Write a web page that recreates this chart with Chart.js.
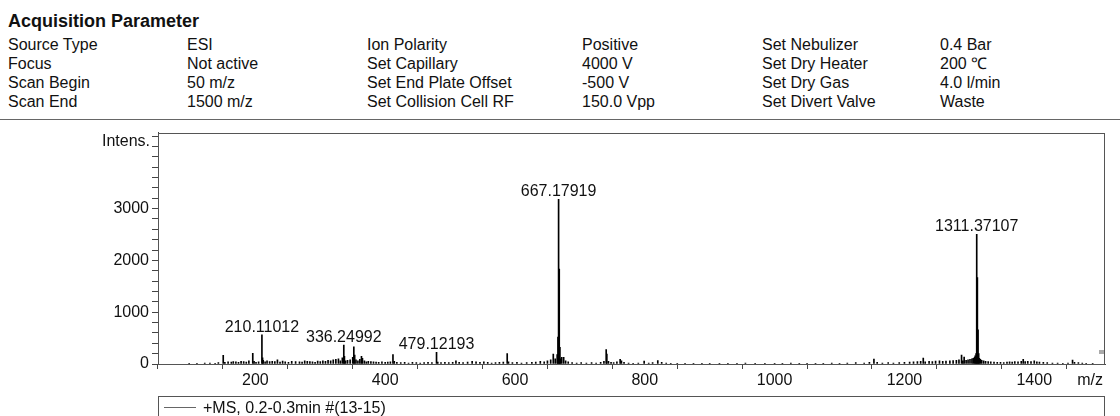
<!DOCTYPE html>
<html>
<head>
<meta charset="utf-8">
<title>Acquisition Parameter - MS Spectrum</title>
<script src="https://cdn.jsdelivr.net/npm/chart.js"></script>
<style>
    body { margin: 0; background: #fff; font-family: "Liberation Sans", Arial, sans-serif; color: #111; }
    .page { position: relative; width: 1120px; height: 416px; overflow: hidden; }
    .title { position: absolute; left: 8px; top: 11px; font-size: 18px; font-weight: bold; line-height: 20px; }
    .col { position: absolute; top: 35px; font-size: 16px; line-height: 19px; white-space: nowrap; }
    .sep { position: absolute; left: 0; top: 119px; width: 1120px; height: 1px; background: #666; }
    #spec { position: absolute; left: 0; top: 120px; }
    .legend { position: absolute; left: 158px; top: 396px; width: 945px; height: 30px; border: 1px solid #555; }
    .legend .swatch { position: absolute; left: 5px; top: 10px; width: 32px; height: 1px; background: #666; }
    .legend .txt { position: absolute; left: 44px; top: 1px; font-size: 16px; line-height: 19px; }
</style>
</head>
<body>
<div class="page">
    <div class="title">Acquisition Parameter</div>
    <div class="col" style="left:8px">Source Type<br>Focus<br>Scan Begin<br>Scan End</div>
    <div class="col" style="left:187px">ESI<br>Not active<br>50 m/z<br>1500 m/z</div>
    <div class="col" style="left:367px">Ion Polarity<br>Set Capillary<br>Set End Plate Offset<br>Set Collision Cell RF</div>
    <div class="col" style="left:582px">Positive<br>4000 V<br>-500 V<br>150.0 Vpp</div>
    <div class="col" style="left:762px">Set Nebulizer<br>Set Dry Heater<br>Set Dry Gas<br>Set Divert Valve</div>
    <div class="col" style="left:940px">0.4 Bar<br>200 ℃<br>4.0 l/min<br>Waste</div>
    <div class="sep"></div>
    <canvas id="spec" width="1120" height="296"></canvas>
    <div class="legend"><div class="swatch"></div><div class="txt">+MS, 0.2-0.3min #(13-15)</div></div>
</div>

<script>
    // peak list (m/z, intensity)
    const mzValues = [
        98, 110, 122, 130, 138, 143, 150.5, 153, 158, 163,
        166, 170, 174, 178, 182, 186, 190, 196, 198, 201,
        205, 210.11012, 211.1, 212, 215, 218, 222, 226, 230, 234,
        238, 242, 246, 251, 256, 262, 268, 272, 276, 280,
        284, 288, 292, 296, 300, 304, 308, 312, 316, 320,
        324, 328, 331, 334, 336.24992, 337.2, 339, 342, 346, 350,
        351.7, 353, 355, 358, 361, 363.5, 365, 368, 371, 374,
        378, 382, 386, 390, 395, 400, 404, 408, 412, 414,
        418, 424, 430, 436, 442, 448, 454, 460, 466, 472,
        479.12193, 481, 486, 492, 498, 504, 509, 514, 520, 527,
        534, 540, 546, 552, 558, 564, 570, 576, 582, 588,
        590, 596, 603, 610, 618, 626, 632, 639, 645, 650,
        655, 659, 662, 665, 666.2, 667.17919, 668.18, 669.2, 670, 672,
        675, 678, 682, 688, 695, 702, 710, 718, 725, 732,
        737, 740.5, 741.5, 744, 748, 752, 757, 762, 764, 768,
        775, 782, 790, 799, 806, 812, 820, 826, 833, 840,
        850, 862, 875, 888, 900, 915, 928, 942, 955, 970,
        985, 1000, 1012, 1025, 1038, 1050, 1063, 1075, 1088, 1100,
        1112, 1125, 1138, 1146, 1153, 1158, 1166, 1175, 1183, 1192,
        1200, 1208, 1214, 1220, 1225, 1229, 1232, 1238, 1243, 1248,
        1254, 1259, 1264, 1270, 1275, 1280, 1284, 1288, 1290, 1292,
        1295, 1298, 1301, 1304, 1306, 1308, 1309, 1310.4, 1311.37107, 1312.37,
        1313.4, 1314.4, 1315.4, 1317, 1319, 1322, 1325, 1329, 1333, 1338,
        1343, 1348, 1353, 1358, 1362, 1366, 1370, 1375, 1380, 1383,
        1386, 1390, 1395, 1400, 1404, 1408, 1414, 1420, 1428, 1436,
        1444, 1452, 1459, 1462, 1468, 1474, 1480, 1490
    ];
    const intensities = [
        15, 12, 18, 20, 15, 25, 165, 30, 40, 35,
        45, 40, 30, 50, 45, 35, 60, 205, 50, 30,
        40, 563, 120, 70, 40, 60, 45, 50, 45, 80,
        35, 55, 40, 30, 50, 45, 40, 35, 60, 50,
        45, 40, 30, 55, 45, 60, 50, 70, 60, 80,
        90, 100, 60, 120, 365, 150, 60, 70, 80, 130,
        330, 170, 80, 60, 90, 150, 110, 60, 40, 50,
        45, 40, 35, 30, 40, 30, 35, 40, 180, 50,
        30, 25, 30, 20, 30, 25, 20, 25, 30, 25,
        225, 35, 25, 30, 25, 30, 60, 30, 25, 35,
        50, 40, 30, 40, 30, 20, 25, 30, 35, 200,
        40, 25, 30, 20, 25, 30, 35, 50, 40, 60,
        80, 190, 100, 180, 520, 3180, 1830, 320, 100, 128,
        130, 60, 40, 25, 20, 25, 20, 25, 20, 30,
        50, 280, 190, 50, 30, 25, 40, 90, 60, 30,
        20, 15, 20, 57, 20, 25, 65, 30, 20, 15,
        15, 12, 15, 15, 12, 15, 12, 15, 18, 15,
        12, 15, 15, 20, 15, 12, 15, 15, 18, 15,
        20, 25, 20, 30, 95, 30, 20, 25, 20, 25,
        30, 35, 40, 45, 50, 115, 40, 50, 45, 55,
        60, 50, 55, 60, 65, 70, 80, 172, 60, 135,
        70, 80, 90, 100, 110, 130, 160, 200, 2505, 1670,
        660, 200, 110, 90, 70, 60, 50, 45, 40, 35,
        30, 30, 25, 35, 40, 35, 45, 40, 50, 90,
        45, 50, 45, 60, 40, 35, 30, 25, 20, 20,
        15, 20, 76, 30, 25, 20, 15, 12
    ];
    const labelledPeaks = [210.11012, 336.24992, 479.12193, 667.17919, 1311.37107];
    const labelTexts = ['210.11012', '336.24992', '479.12193', '667.17919', '1311.37107'];
    const yLabelled = [0, 1000, 2000, 3000];

    const axisFont = { family: 'Liberation Sans', size: 16 };
    const textColor = '#111';

    const decorations = {
        id: 'decorations',
        afterDraw(chart) {
            const ctx = chart.ctx;
            const area = chart.chartArea;
            const xs = chart.scales.x, ys = chart.scales.y;
            ctx.save();
            // frame round the plot
            ctx.strokeStyle = '#555';
            ctx.lineWidth = 1;
            ctx.strokeRect(Math.round(area.left) + 0.5, Math.round(area.top) + 0.5,
                Math.round(area.right - area.left) - 1, Math.round(area.bottom - area.top));
            // peak labels
            ctx.fillStyle = textColor;
            ctx.font = '16px "Liberation Sans"';
            ctx.textAlign = 'center';
            ctx.textBaseline = 'alphabetic';
            labelledPeaks.forEach((m, i) => {
                const idx = mzValues.indexOf(m);
                const px = xs.getPixelForValue(m);
                const py = ys.getPixelForValue(intensities[idx]);
                ctx.fillText(labelTexts[i], px, py - 3);
            });
            // axis captions
            ctx.textAlign = 'right';
            ctx.textBaseline = 'middle';
            ctx.fillText('Intens.', area.left - 8, area.top + 9);
            ctx.fillText('m/z', area.right - 2, area.bottom + 17);
            // small grey marker at right edge
            ctx.fillStyle = '#aaa';
            ctx.fillRect(Math.round(area.right) - 6, Math.round(area.bottom) - 14, 5, 4);
            ctx.restore();
        }
    };

    new Chart(document.getElementById('spec'), {
        type: 'bar',
        data: {
            datasets: [{
                data: mzValues.map((m, i) => ({ x: m, y: intensities[i] })),
                backgroundColor: '#000',
                borderWidth: 0,
                barThickness: 1
            }]
        },
        options: {
            responsive: false,
            animation: false,
            layout: { padding: { top: 12, right: 15, left: 0, bottom: 0 } },
            plugins: { legend: { display: false }, tooltip: { enabled: false } },
            scales: {
                x: {
                    type: 'linear',
                    min: 50,
                    max: 1509,
                    offset: false,
                    grid: { drawOnChartArea: false, tickLength: 5, color: '#444' },
                    border: { color: '#444' },
                    ticks: {
                        stepSize: 100,
                        includeBounds: false,
                        autoSkip: false,
                        maxRotation: 0,
                        padding: 2,
                        color: textColor,
                        font: axisFont,
                        callback: v => (v % 200 === 0 && v >= 200 && v <= 1400) ? v : ''
                    },
                    afterFit: s => { s.height = 52; }
                },
                y: {
                    min: 0,
                    max: 4467,
                    grid: { drawOnChartArea: false, tickLength: 6, color: '#444' },
                    border: { color: '#444' },
                    ticks: {
                        stepSize: 200,
                        includeBounds: false,
                        autoSkip: false,
                        padding: 3,
                        color: textColor,
                        font: axisFont,
                        callback: v => yLabelled.includes(v) ? v : ''
                    },
                    afterFit: s => { s.width = 158; }
                }
            }
        },
        plugins: [decorations]
    });
</script>
</body>
</html>
